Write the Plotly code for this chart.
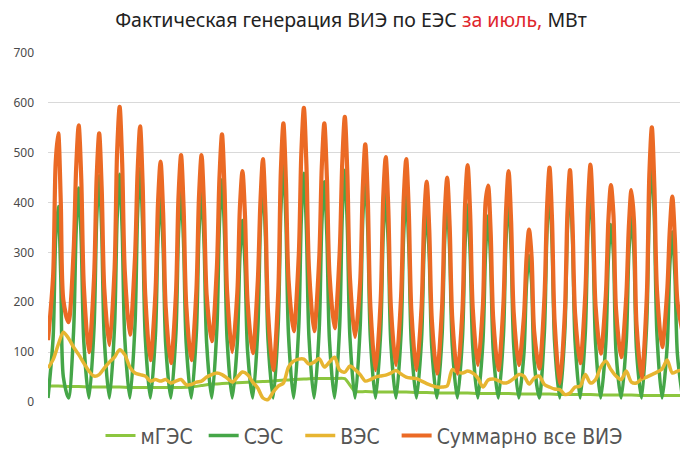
import plotly.graph_objects as go

# ---------------- data (MW) ----------------
# time of day (hours) of the points given for every day of July
day_hours = [0, 6, 9, 12, 15, 18]

# СЭС: one row per day, values at day_hours
ses_days = [
    [8, 129, 330, 392, 250, 50],
    [8, 142, 343, 429, 322, 120],
    [8, 150, 363, 454, 341, 127],
    [8, 151, 366, 457, 343, 128],
    [8, 155, 375, 469, 352, 131],
    [8, 136, 329, 411, 308, 115],
    [8, 139, 337, 421, 316, 118],
    [8, 140, 338, 423, 317, 118],
    [8, 147, 357, 446, 335, 125],
    [8, 120, 291, 364, 273, 102],
    [8, 145, 350, 438, 329, 123],
    [8, 158, 382, 478, 359, 134],
    [8, 151, 367, 459, 344, 129],
    [8, 146, 354, 442, 332, 124],
    [8, 153, 372, 465, 349, 130],
    [8, 150, 363, 454, 341, 127],
    [8, 138, 334, 417, 313, 117],
    [8, 138, 334, 417, 313, 117],
    [8, 127, 309, 386, 290, 108],
    [8, 132, 320, 400, 300, 112],
    [8, 130, 316, 395, 296, 111],
    [8, 123, 298, 373, 280, 104],
    [8, 134, 325, 406, 305, 114],
    [8, 97, 235, 294, 240, 82],
    [8, 140, 339, 424, 318, 119],
    [8, 143, 346, 432, 324, 121],
    [8, 140, 338, 423, 317, 118],
    [8, 117, 285, 356, 296, 100],
    [8, 122, 297, 371, 300, 104],
    [8, 159, 386, 483, 362, 135],
    [8, 113, 273, 341, 256, 95],
]
ses_end = 8

# Суммарно все ВИЭ: one row per day, values at day_hours
total_days = [
    [124, 253, 480, 539, 400, 204],
    [160, 302, 469, 555, 448, 233],
    [100, 250, 448, 539, 426, 227],
    [114, 265, 501, 592, 478, 263],
    [135, 290, 459, 553, 436, 215],
    [84, 220, 400, 482, 379, 190],
    [78, 217, 411, 495, 390, 197],
    [84, 224, 410, 495, 389, 215],
    [122, 269, 448, 537, 426, 221],
    [100, 220, 390, 463, 372, 201],
    [98, 243, 399, 487, 378, 180],
    [64, 222, 463, 559, 440, 246],
    [142, 293, 498, 590, 475, 266],
    [142, 288, 471, 559, 449, 257],
    [148, 301, 479, 572, 456, 249],
    [130, 240, 426, 517, 404, 191],
    [64, 202, 408, 491, 387, 191],
    [74, 212, 404, 487, 383, 184],
    [64, 191, 365, 442, 346, 165],
    [57, 189, 370, 450, 350, 166],
    [57, 187, 396, 475, 376, 188],
    [74, 197, 400, 434, 341, 167],
    [64, 198, 382, 463, 362, 180],
    [74, 171, 287, 346, 291, 142],
    [67, 207, 385, 470, 364, 161],
    [37, 180, 379, 465, 357, 177],
    [78, 218, 391, 476, 370, 193],
    [97, 214, 364, 435, 375, 185],
    [90, 212, 351, 425, 365, 156],
    [50, 209, 454, 551, 430, 224],
    [110, 223, 344, 412, 327, 201],
]
total_end = 140

# ВЭС: one row per day, values at 0, 6, 12, 18 h
ves_hours = [0, 6, 12, 18]
ves_days = [
    [68, 85, 115, 140], [128, 110, 95, 78], [62, 52, 55, 68], [80, 90, 105, 95],
    [70, 58, 55, 52], [42, 45, 42, 45], [38, 42, 45, 35], [35, 40, 42, 50],
    [55, 58, 55, 48], [40, 50, 60, 55], [40, 28, 8, 5], [20, 32, 38, 70],
    [82, 86, 86, 76], [80, 87, 70, 80], [90, 64, 60, 72], [65, 55, 42, 45],
    [50, 52, 54, 58], [63, 56, 50, 48], [47, 42, 37, 33], [30, 30, 32, 65],
    [60, 58, 62, 58], [48, 30, 44, 46], [43, 38, 40, 47], [55, 52, 36, 48],
    [52, 35, 30, 26], [25, 15, 18, 30], [32, 55, 38, 45], [70, 82, 65, 52],
    [45, 62, 40, 38], [46, 50, 55, 60], [66, 84, 58, 62],
]
ves_end = 64

# мГЭС: values every 12 h (0 h and 12 h of each day), plus end of month
mges_halfday = [32, 32, 31, 31, 30, 30, 30, 30, 29, 29, 29, 29, 29, 29, 30, 33,
                36, 37, 38, 39, 40, 41, 42, 44, 45, 46, 47, 47, 47, 47, 21, 21,
                20, 20, 20, 20, 19, 19, 18, 18, 18, 18, 17, 17, 17, 17, 16, 16,
                16, 16, 15, 15, 15, 15, 14, 14, 14, 14, 13, 13, 13, 13, 13]

series_names = ["мГЭС", "СЭС", "ВЭС", "Суммарно все ВИЭ"]

N_DAYS = 31
MONTH_HOURS = 24 * N_DAYS

# ---------------- build series ----------------
x_prof = [d * 24 + h for d in range(N_DAYS) for h in day_hours] + [MONTH_HOURS]
ses = [v for row in ses_days for v in row] + [ses_end]
total = [v for row in total_days for v in row] + [total_end]

x_ves = [d * 24 + h for d in range(N_DAYS) for h in ves_hours] + [MONTH_HOURS]
ves = [v for row in ves_days for v in row] + [ves_end]

x_mges = [k * 12 for k in range(len(mges_halfday))]

# a little trailing non-breaking space widens the legend entries as in the reference
NB = "\u00a0"
legend_names = [series_names[0] + NB, series_names[1] + NB * 2,
                series_names[2] + NB * 2, series_names[3]]

C_MGES = "#8CC63F"
C_SES = "#45A648"
C_VES = "#E7B531"
C_TOT = "#EB6A25"

fig = go.Figure()
fig.add_trace(go.Scatter(x=x_mges, y=mges_halfday, name=legend_names[0], mode="lines",
                         line=dict(color=C_MGES, width=3, shape="spline", smoothing=0.5)))
fig.add_trace(go.Scatter(x=x_prof, y=ses, name=legend_names[1], mode="lines",
                         line=dict(color=C_SES, width=3.5, shape="spline", smoothing=0.8)))
fig.add_trace(go.Scatter(x=x_ves, y=ves, name=legend_names[2], mode="lines",
                         line=dict(color=C_VES, width=3.5, shape="spline", smoothing=0.8)))
fig.add_trace(go.Scatter(x=x_prof, y=total, name=legend_names[3], mode="lines",
                         line=dict(color=C_TOT, width=4.2, shape="spline", smoothing=0.8)))

fig.update_layout(
    width=680, height=449,
    margin=dict(l=48, r=0, t=53, b=47, autoexpand=False),
    paper_bgcolor="white", plot_bgcolor="white",
    title=dict(
        text="Фактическая генерация ВИЭ по ЕЭС <span style='color:#E0252B'>за июль,</span> МВт",
        x=351 / 680, xref="container", xanchor="center",
        y=1 - 20 / 449, yref="container", yanchor="middle",
        font=dict(family="Noto Sans, Open Sans, sans-serif", size=19.5, color="#222222"),
    ),
    legend=dict(
        orientation="h", x=0.5, xanchor="center", y=-0.097, yanchor="middle",
        font=dict(family="DejaVu Sans Condensed, sans-serif",
                  size=21, color="#555555"),
        itemwidth=30, bgcolor="rgba(0,0,0,0)",
    ),
    xaxis=dict(range=[0, MONTH_HOURS - 3], showticklabels=False, showgrid=False,
               zeroline=False, showline=False, ticks="", automargin=False),
    yaxis=dict(range=[0, 700], dtick=100, showgrid=True, gridcolor="#D9D9D9",
               gridwidth=1, zeroline=False, showline=False, ticks="",
               ticklabelstandoff=13, automargin=False,
               tickfont=dict(family="Noto Sans, Open Sans, sans-serif", size=12,
                             color="#4A4A4A")),
)

fig.write_html("out.html", config={"displayModeBar": False},
               post_script="document.body.style.margin='0px';")
